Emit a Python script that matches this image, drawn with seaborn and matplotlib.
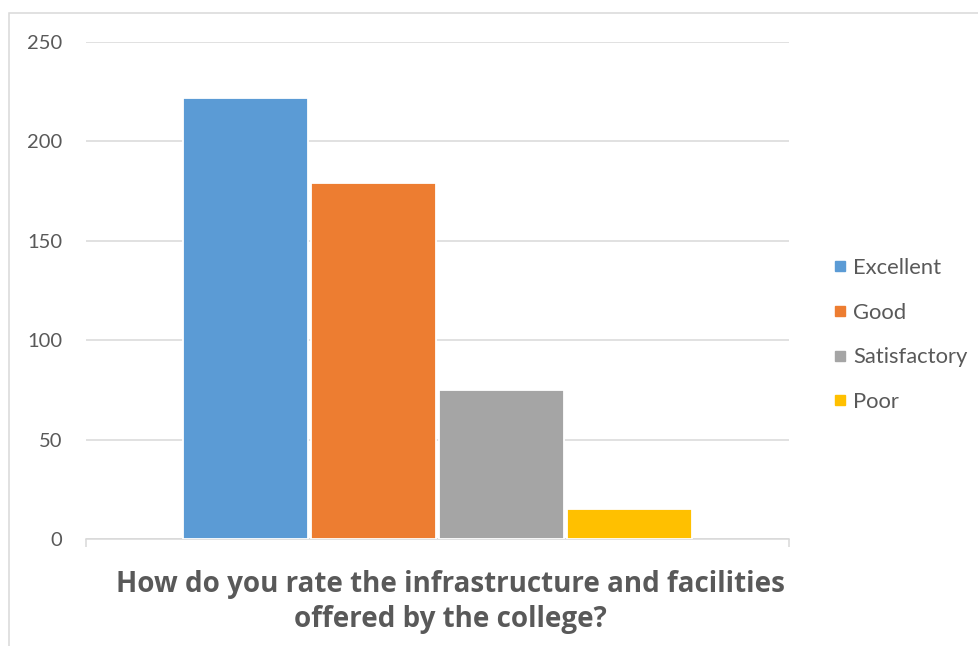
import matplotlib
matplotlib.use("Agg")
import matplotlib.pyplot as plt
from matplotlib.lines import Line2D
from matplotlib.patches import Rectangle
import seaborn as sns
import pandas as pd

question = "How do you rate the infrastructure and facilities\noffered by the college?"
ratings = ["Excellent", "Good", "Satisfactory", "Poor"]
counts = [222, 179, 75, 15]
colors = ["#5B9BD5", "#ED7D31", "#A5A5A5", "#FFC000"]
yticks = [0, 50, 100, 150, 200, 250]

sns.set_theme(style="white")
plt.rcParams["font.family"] = ["Lato", "DejaVu Sans"]

df = pd.DataFrame({"question": [question] * len(ratings), "rating": ratings, "count": counts})

W, H = 979, 646
fig = plt.figure(figsize=(W / 100, H / 100), dpi=100)
ax = fig.add_axes([86 / W, 1 - 539 / H, (789 - 86) / W, (539 - 42) / H])

sns.barplot(data=df, x="question", y="count", hue="rating", hue_order=ratings,
            palette=dict(zip(ratings, colors)), width=0.728, gap=0.02, edgecolor="white",
            linewidth=1.3, saturation=1, legend=False, ax=ax, zorder=3)

ax.set_xlim(-0.5, 0.5)
ax.set_ylim(0, 250)
ax.set_yticks(yticks)
ax.set_yticklabels([str(v) for v in yticks])
ax.set_xticks([-0.5, 0.5])
ax.set_xticklabels(["", ""])
ax.set_xlabel("")
ax.set_ylabel("")
ax.grid(axis="y", color="#D9D9D9", linewidth=1.1, zorder=0)
ax.set_axisbelow(True)
for s in ["left", "top", "right"]:
    ax.spines[s].set_visible(False)
ax.spines["bottom"].set_color("#D9D9D9")
ax.spines["bottom"].set_linewidth(1.1)
ax.tick_params(axis="y", length=0, pad=17, labelsize=14.5, labelcolor="#595959")
ax.tick_params(axis="x", length=6, width=1.1, color="#D9D9D9", direction="out", bottom=True)

handles = [Line2D([], [], marker="s", linestyle="", color=c, markersize=6.5) for c in colors]
fig.legend(handles, ratings, loc="center left", bbox_to_anchor=(834 / W, 1 - 335 / H),
           frameon=False, fontsize=15.8, labelcolor="#595959", handlelength=0.55,
           handletextpad=0.32, labelspacing=1.12, borderpad=0, borderaxespad=0)

fig.text(450 / W, 1 - 602 / H, question, ha="center", va="center", fontsize=20,
         fontweight="bold", color="#595959", linespacing=1.25,
         family=["Open Sans", "DejaVu Sans"])

fig.patches.append(Rectangle((9 / W, -0.1), 1.2, 1 - 13 / H + 0.1, transform=fig.transFigure,
                             fill=False, edgecolor="#D9D9D9", linewidth=1.1))

fig.savefig("out.png", dpi=100, facecolor="white")
